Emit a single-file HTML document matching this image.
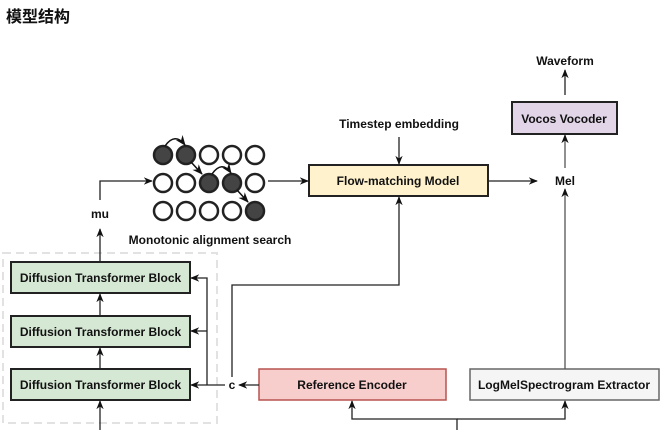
<!DOCTYPE html>
<html><head><meta charset="utf-8"><style>
body{margin:0;background:#fff;width:669px;height:430px;overflow:hidden}
svg text{font-family:"Liberation Sans","Noto Sans CJK SC",sans-serif;font-weight:bold;fill:#111}
</style></head><body>
<svg width="669" height="430" viewBox="0 0 669 430" xmlns="http://www.w3.org/2000/svg">
<defs><marker id="a" viewBox="0 0 10 10" refX="9" refY="5" markerWidth="7" markerHeight="7" orient="auto"><path d="M0,1 L10,5 L0,9 L3,5z" fill="#111"/></marker></defs>
<text x="6" y="22" font-size="16" style="font-family:'Noto Sans CJK SC',sans-serif">模型结构</text>
<rect x="3" y="253" width="214" height="170" fill="none" stroke="#e2e2e2" stroke-width="2" stroke-dasharray="8,5"/>
<g stroke="#222" stroke-width="1.3" fill="none">
<rect x="11" y="262" width="179" height="31" fill="#d5e8d4" stroke-width="2"/>
<rect x="11" y="316" width="179" height="31" fill="#d5e8d4" stroke-width="2"/>
<rect x="11" y="369" width="179" height="31" fill="#d5e8d4" stroke-width="2"/>
<rect x="309" y="165" width="179" height="31" fill="#fff2cc" stroke-width="2"/>
<rect x="512" y="102" width="105" height="32" fill="#e1d5e7" stroke-width="2"/>
<rect x="259" y="369" width="187" height="31" fill="#f8cecc" stroke="#b85450" stroke-width="1.5"/>
<rect x="470" y="369" width="189" height="31" fill="#f5f5f5" stroke="#666" stroke-width="1.5"/>
<path d="M100,430 V401" marker-end="url(#a)"/>
<path d="M100,369 V348" marker-end="url(#a)"/>
<path d="M100,316 V294" marker-end="url(#a)"/>
<path d="M100,262 V229" marker-end="url(#a)"/>
<path d="M100,200 V181 H152" marker-end="url(#a)"/>
<path d="M268,181 H308" marker-end="url(#a)"/>
<path d="M488,181 H537" marker-end="url(#a)"/>
<path d="M399,137 V164" marker-end="url(#a)"/>
<path d="M565,95 V70" marker-end="url(#a)"/>
<path d="M565,168 V135" marker-end="url(#a)" stroke="#555"/>
<path d="M565,369 V189" marker-end="url(#a)" stroke="#555"/>
<path d="M232,377 V285 H399 V197" marker-end="url(#a)"/>
<path d="M225,385 H191" marker-end="url(#a)"/>
<path d="M207,385 V278 H191" marker-end="url(#a)"/>
<path d="M207,331 H191" marker-end="url(#a)"/>
<path d="M259,385 H239" marker-end="url(#a)"/>
<path d="M457,430 V419 H352 V401" marker-end="url(#a)"/>
<path d="M457,419 H565 V401" marker-end="url(#a)"/>
</g>
<g stroke="#222" stroke-width="2.5">
<circle cx="163" cy="155" r="9" fill="#444"/><circle cx="186" cy="155" r="9" fill="#444"/><circle cx="209" cy="155" r="9" fill="#fff"/><circle cx="232" cy="155" r="9" fill="#fff"/><circle cx="255" cy="155" r="9" fill="#fff"/>
<circle cx="163" cy="183" r="9" fill="#fff"/><circle cx="186" cy="183" r="9" fill="#fff"/><circle cx="209" cy="183" r="9" fill="#444"/><circle cx="232" cy="183" r="9" fill="#444"/><circle cx="255" cy="183" r="9" fill="#fff"/>
<circle cx="163" cy="211" r="9" fill="#fff"/><circle cx="186" cy="211" r="9" fill="#fff"/><circle cx="209" cy="211" r="9" fill="#fff"/><circle cx="232" cy="211" r="9" fill="#fff"/><circle cx="255" cy="211" r="9" fill="#444"/>
</g>
<g stroke="#111" stroke-width="1.5" fill="none">
<path d="M165,146 Q175,132 185,145" marker-end="url(#a)"/>
<path d="M191,162 L202,174" marker-end="url(#a)"/>
<path d="M212,174 Q222,160 231,173" marker-end="url(#a)"/>
<path d="M237,190 L248,202" marker-end="url(#a)"/>
</g>
<g font-size="12" text-anchor="middle">
<text x="100.5" y="282">Diffusion Transformer Block</text>
<text x="100.5" y="336">Diffusion Transformer Block</text>
<text x="100.5" y="389">Diffusion Transformer Block</text>
<text x="398" y="185">Flow-matching Model</text>
<text x="564" y="123">Vocos Vocoder</text>
<text x="352" y="389">Reference Encoder</text>
<text x="564" y="389">LogMelSpectrogram Extractor</text>
<text x="565" y="65">Waveform</text>
<text x="399" y="128">Timestep embedding</text>
<text x="565" y="185">Mel</text>
<text x="100" y="218">mu</text>
<text x="210" y="244">Monotonic alignment search</text>
<text x="232" y="389">c</text>
</g>
</svg>
</body></html>
